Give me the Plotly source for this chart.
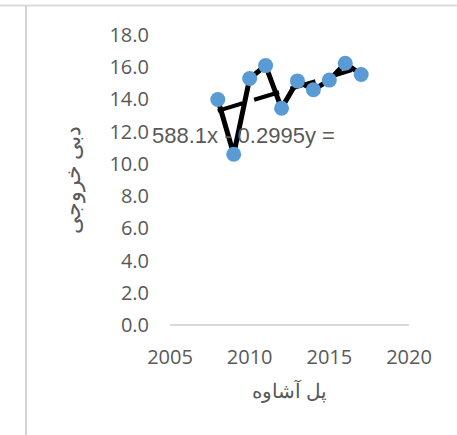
import numpy as np
import plotly.graph_objects as go

# Pol Ashaveh yearly values
years = [2008, 2009, 2010, 2011, 2012, 2013, 2014, 2015, 2016, 2017]
values = [14.0, 10.6, 15.3, 16.1, 13.45, 15.15, 14.6, 15.2, 16.25, 15.55]

# trendline as printed on the chart (y = 0.2995x - 588.1)
slope = 0.2995
intercept = -588.1
equation_text = "588.1x - 0.2995y ="

x_ticks = [2005, 2010, 2015, 2020]
y_ticks = [0, 2, 4, 6, 8, 10, 12, 14, 16, 18]

x_title = "پل آشاوه"
y_title = "دبی خروجی"

grey_text = "#595959"
font_family = "Open Sans, Liberation Sans, sans-serif"

fig = go.Figure()

# linear trendline over the data span
trend_x = np.array([min(years), max(years)])
trend_y = slope * trend_x + intercept
fig.add_trace(
    go.Scatter(
        x=trend_x,
        y=trend_y,
        mode="lines",
        line=dict(color="black", width=4, dash="26px,12px"),
        showlegend=False,
        hoverinfo="skip",
    )
)

# series line with markers
fig.add_trace(
    go.Scatter(
        x=years,
        y=values,
        mode="lines+markers",
        line=dict(color="black", width=5),
        marker=dict(color="#5B9BD5", size=15),
        showlegend=False,
    )
)

fig.update_layout(
    width=457,
    height=435,
    margin=dict(l=170, r=48, t=35, b=110),
    paper_bgcolor="white",
    plot_bgcolor="white",
    font=dict(family=font_family, size=20, color=grey_text),
    xaxis=dict(
        range=[2005, 2020],
        tickvals=x_ticks,
        showgrid=False,
        zeroline=False,
        showline=False,
        ticklabelstandoff=18,
        title=dict(text=x_title, font=dict(size=20, color=grey_text), standoff=14),
    ),
    yaxis=dict(
        range=[0, 18],
        tickvals=y_ticks,
        tickformat=".1f",
        showgrid=False,
        zeroline=True,
        zerolinecolor="#D9D9D9",
        zerolinewidth=2,
        showline=False,
        ticklabelstandoff=20,
        title=dict(text=y_title, font=dict(size=22, color=grey_text), standoff=22),
    ),
    annotations=[
        dict(
            text=equation_text,
            xref="paper",
            yref="paper",
            x=-0.085,
            y=0.655,
            xanchor="left",
            yanchor="middle",
            showarrow=False,
            font=dict(family="Liberation Sans, Arial, sans-serif", size=22, color=grey_text),
        )
    ],
    shapes=[
        # page edges seen around the chart
        dict(type="line", xref="paper", yref="paper", x0=-0.75, x1=1.25, y0=1.102, y1=1.102,
             line=dict(color="#DADADA", width=2)),
        dict(type="line", xref="paper", yref="paper", x0=-0.6025, x1=-0.6025, y0=1.102, y1=-0.4,
             line=dict(color="#D4D4D4", width=2)),
    ],
)

fig.write_html(
    "out.html",
    config={"displayModeBar": False},
    post_script="document.body.style.margin='0';",
)
